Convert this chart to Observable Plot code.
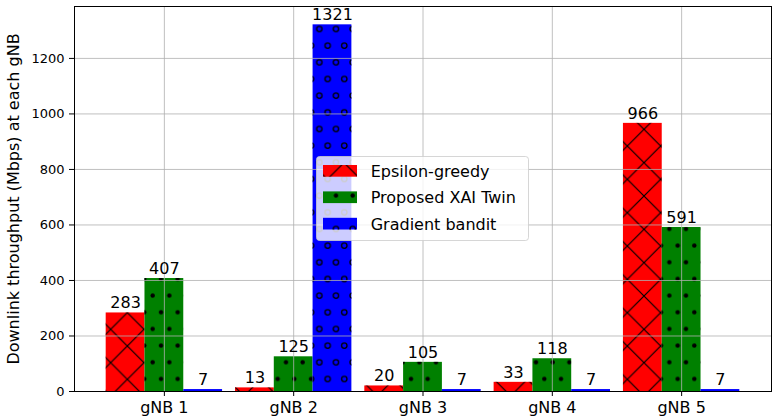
<!DOCTYPE html>
<html><head><meta charset="utf-8">
<script src="https://cdn.jsdelivr.net/npm/d3@7"></script>
<script src="https://cdn.jsdelivr.net/npm/@observablehq/plot@0.6"></script>
<style>body{margin:0;background:#fff;} #chart{width:780px;height:420px;}</style>
</head><body><div id="chart"></div>
<script>
const categories = ["gNB 1","gNB 2","gNB 3","gNB 4","gNB 5"];
const seriesNames = ["Epsilon-greedy","Proposed XAI Twin","Gradient bandit"];
const epsilonGreedy = [283,13,20,33,966];
const proposedXAITwin = [407,125,105,118,591];
const gradientBandit = [7,1321,7,7,7];
const yTicks = [0,200,400,600,800,1000,1200];
const yLabel = "Downlink throughput (Mbps) at each gNB";
const seriesColors = ["#ff0000","#008000","#0000ff"];
const seriesPatterns = ["hatch-x","hatch-dot","hatch-o"];

const seriesValues = [epsilonGreedy, proposedXAITwin, gradientBandit];
const barWidth = 0.3;
const rows = [];
seriesValues.forEach((vals, s) => vals.forEach((v, i) => rows.push({
  i, s, cat: categories[i], series: seriesNames[s], value: v, center: i + (s - 1) * barWidth
})));
const yMax = d3.max(rows, d => d.value) * 1.05;
const xPad = (categories.length - 1 + 3 * barWidth) * 0.05;
const xDomain = [-1.5 * barWidth - xPad, categories.length - 1 + 1.5 * barWidth + xPad];
const catTicks = categories.map((_, i) => i);

const marks = [];
seriesNames.forEach((name, s) => {
  const data = rows.filter(d => d.s === s);
  const opts = {x1: d => d.center - barWidth / 2, x2: d => d.center + barWidth / 2, y1: 0, y2: "value"};
  marks.push(Plot.rect(data, {...opts, fill: seriesColors[s]}));
  marks.push(Plot.rect(data, {...opts, fill: `url(#${seriesPatterns[s]})`}));
});
marks.push(Plot.gridY({ticks: yTicks, stroke: "#b0b0b0", strokeOpacity: 1, strokeWidth: 0.8}));
marks.push(Plot.gridX({ticks: catTicks, stroke: "#b0b0b0", strokeOpacity: 1, strokeWidth: 0.8}));
seriesNames.forEach((name, s) => {
  marks.push(Plot.text(rows.filter(d => d.s === s), {x: "center", y: "value", text: d => String(d.value),
    lineAnchor: "bottom", dy: -4.5, fontSize: 16, fill: "black"}));
});
marks.push(Plot.axisY({ticks: yTicks, tickFormat: d => String(d), tickSize: 5, tickPadding: 5, fontSize: 13, label: null}));
marks.push(Plot.axisX({ticks: catTicks, tickFormat: i => categories[i], tickSize: 5, tickPadding: 5, fontSize: 16, label: null}));
marks.push(Plot.frame({stroke: "black", strokeWidth: 1}));
marks.push(Plot.text([yLabel], {frameAnchor: "left", text: d => d, rotate: -90, dx: -61, fontSize: 16, textAnchor: "middle", lineAnchor: "middle", fill: "black"}));

const chart = Plot.plot({
  width: 780, height: 420,
  marginLeft: 74, marginRight: 9, marginTop: 6, marginBottom: 29,
  style: {fontFamily: "DejaVu Sans", background: "white", color: "black", overflow: "visible"},
  x: {type: "linear", domain: xDomain, axis: null},
  y: {domain: [0, yMax], axis: null},
  marks
});
document.getElementById("chart").appendChild(chart);

// hatch patterns (matplotlib-style)
const svg = d3.select(chart);
const defs = svg.insert("defs", ":first-child");
const P = 100 / 3, H = P / 2;
const px = defs.append("pattern").attr("id", "hatch-x").attr("patternUnits", "userSpaceOnUse")
  .attr("x", -6).attr("y", 12.67).attr("width", P).attr("height", P);
let dpath = "";
for (const c of [-P, 0, P]) {
  dpath += `M${-1},${-1 + c} L${P + 1},${P + 1 + c} `;
  dpath += `M${-1},${P + 1 + c} L${P + 1},${-1 + c} `;
}
px.append("path").attr("d", dpath).attr("stroke", "black").attr("stroke-width", 1.2).attr("fill", "none");

const pd = defs.append("pattern").attr("id", "hatch-dot").attr("patternUnits", "userSpaceOnUse")
  .attr("x", 0).attr("y", 0).attr("width", H).attr("height", P);
const po = defs.append("pattern").attr("id", "hatch-o").attr("patternUnits", "userSpaceOnUse")
  .attr("x", 0).attr("y", 0).attr("width", H).attr("height", P);
const pts = [[2.67, 29], [11, 12.33]];
for (const [cx, cy] of pts) {
  for (const ox of [-H, 0, H]) for (const oy of [-P, 0, P]) {
    pd.append("circle").attr("cx", cx + ox).attr("cy", cy + oy).attr("r", 2.2).attr("fill", "black");
    po.append("circle").attr("cx", cx + ox).attr("cy", cy + oy).attr("r", 2.7).attr("fill", "none")
      .attr("stroke", "black").attr("stroke-width", 1.3);
  }
}

// legend
const lg = svg.append("g").attr("font-family", "DejaVu Sans").attr("font-size", 16).attr("text-anchor", "start");
lg.append("rect").attr("x", 316.5).attr("y", 156.5).attr("width", 212).attr("height", 84).attr("rx", 3)
  .attr("fill", "white").attr("fill-opacity", 0.8).attr("stroke", "#cccccc").attr("stroke-opacity", 0.8);
seriesNames.forEach((name, s) => {
  const base = 176.7 + s * 26.4;
  lg.append("rect").attr("x", 323).attr("y", base - 11.7).attr("width", 34).attr("height", 11.7).attr("fill", seriesColors[s]);
  lg.append("rect").attr("x", 323).attr("y", base - 11.7).attr("width", 34).attr("height", 11.7).attr("fill", `url(#${seriesPatterns[s]})`);
  lg.append("text").attr("x", 370.7).attr("y", base).attr("fill", "black").attr("text-anchor", "start").text(name);
});
</script></body></html>
